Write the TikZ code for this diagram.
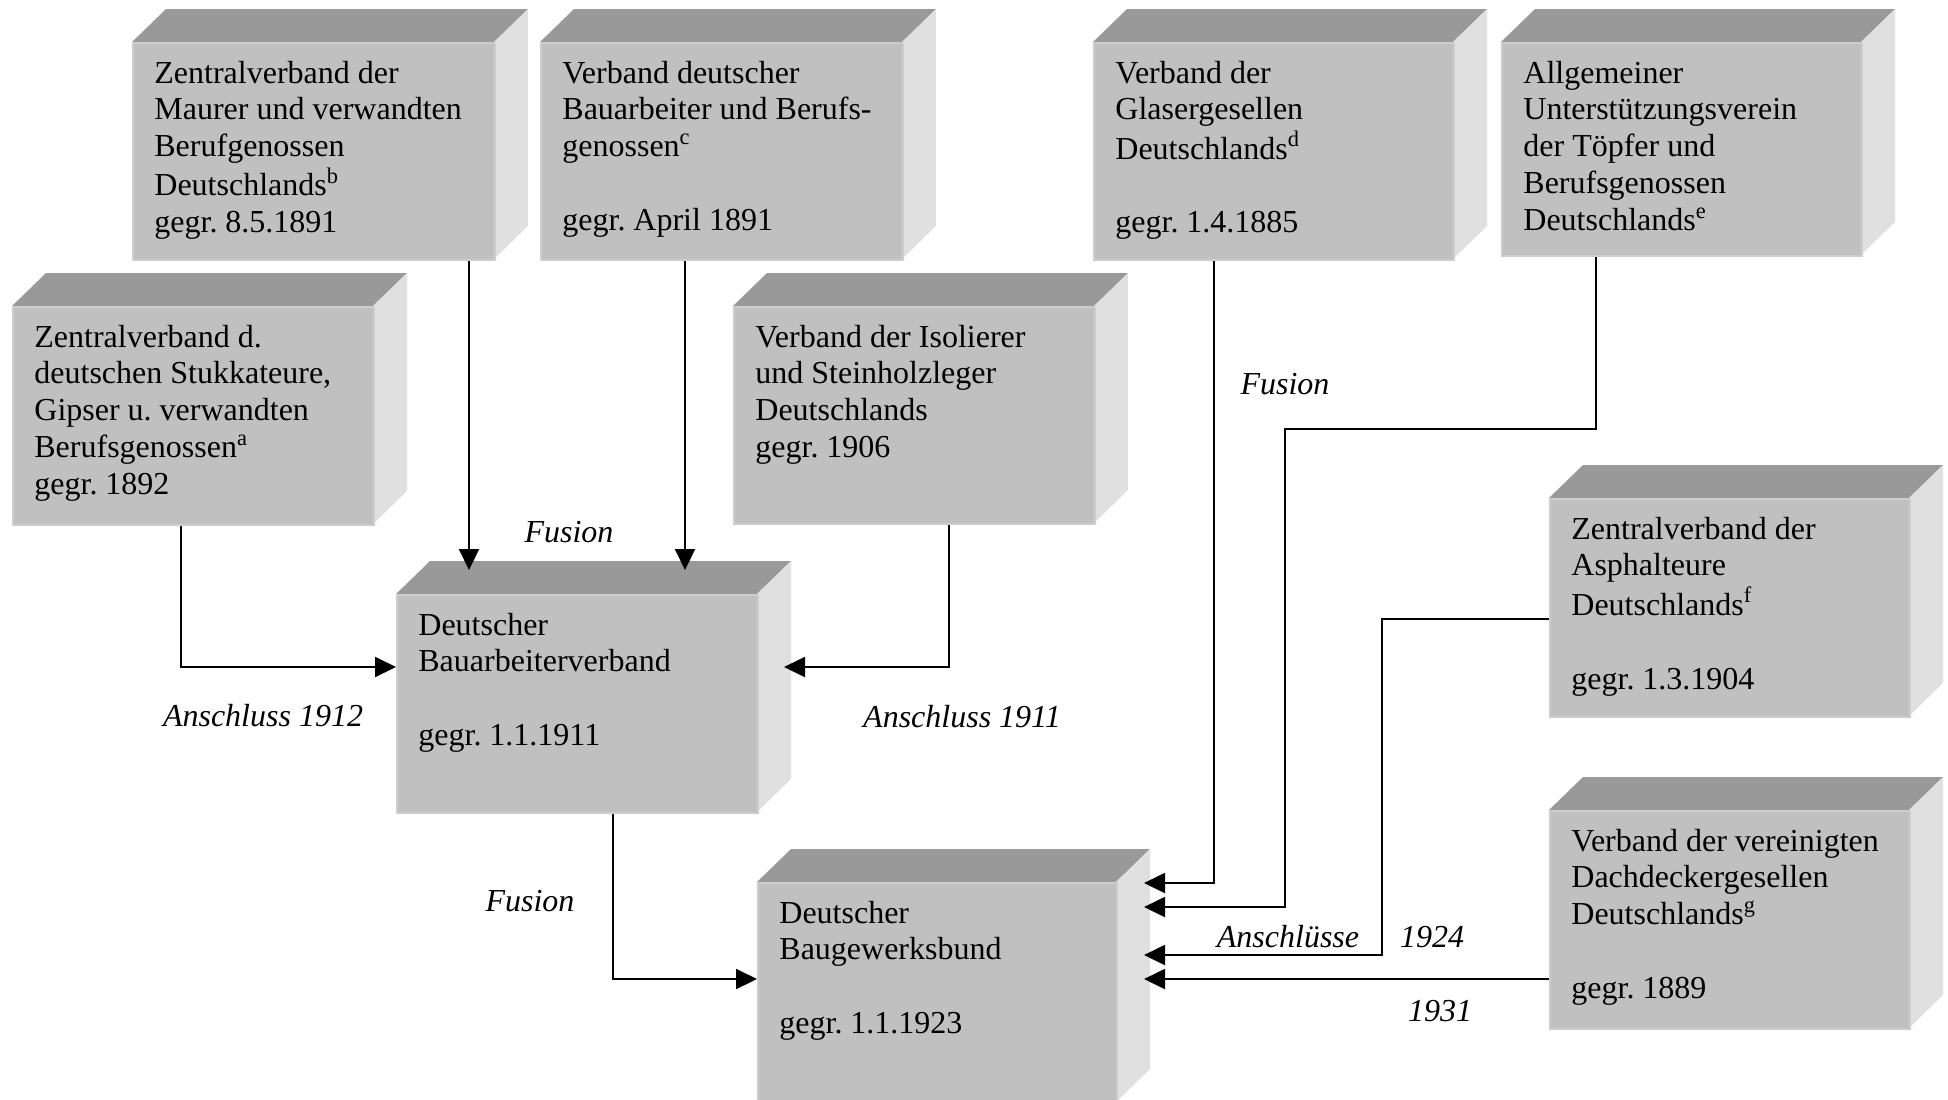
\documentclass[tikz,border=0pt]{standalone}
\usepackage{fontspec}
\setmainfont{Liberation Serif}
\usetikzlibrary{arrows.meta,calc}
\definecolor{topc}{HTML}{999999}
\definecolor{frontc}{HTML}{C0C0C0}
\definecolor{sidec}{HTML}{E0E0E0}
\definecolor{bordc}{HTML}{CDCDCD}
\frenchspacing
\tikzset{
  frontbox/.style={fill=frontc, draw=bordc, line width=1pt, inner sep=0pt, anchor=north west},
  boxtext/.style={anchor=base west, inner sep=0pt, font=\fontsize{16pt}{18.45pt}\selectfont},
  lbl/.style={inner sep=0pt, font=\fontsize{16pt}{18.45pt}\selectfont\itshape},
  arr/.style={line width=1pt, -{Triangle[length=10.5pt,width=10pt]}},
}
\newcommand{\cubebox}[6]{%
  \fill[topc] (#2,#3) -- (#2+34,#3-33) -- (#4+34,#3-33) -- (#4,#3) -- cycle;
  \fill[sidec] (#4,#3) -- (#4+34,#3-33) -- (#4+34,#5-33) -- (#4,#5) -- cycle;
  \node[frontbox, minimum width={(#4-#2)*0.5pt}, minimum height={(#5-#3)*0.5pt}] (#1) at (#2,#3) {};
  \node[boxtext] (#1t) at (#2+22,#3+41) {\frenchspacing\begin{tabular}[t]{@{}l@{}}#6\end{tabular}};
}
\begin{document}
\begin{tikzpicture}[x=0.5pt,y=-0.5pt]
\useasboundingbox (0,0) rectangle (1948,1099);
\fill[white] (0,0) rectangle (1948,1099);

\cubebox{A}{12}{306}{373}{524}{Zentralverband d.\\ deutschen Stukkateure,\\ Gipser u. verwandten\\ Berufsgenossen\textsuperscript{a}\\ gegr. 1892}
\cubebox{B}{132}{42}{494}{259}{Zentralverband der\\ Maurer und verwandten\\ Berufgenossen\\ Deutschlands\textsuperscript{b}\\ gegr. 8.5.1891}
\cubebox{C}{540}{42}{902}{259}{Verband deutscher\\ Bauarbeiter und Berufs-\\ genossen\textsuperscript{c}\\ \\ gegr. April 1891}
\cubebox{D}{733}{306}{1094}{523}{Verband der Isolierer\\ und Steinholzleger\\ Deutschlands\\ gegr. 1906}
\cubebox{Gl}{1093}{42}{1453}{259}{Verband der\\ Glasergesellen\\ Deutschlands\textsuperscript{d}\\ \\ gegr. 1.4.1885}
\cubebox{T}{1501}{42}{1861}{255}{Allgemeiner\\ Unterstützungsverein\\ der Töpfer und\\ Berufsgenossen\\ Deutschlands\textsuperscript{e}}
\cubebox{E}{396}{594}{757}{812}{Deutscher\\ Bauarbeiterverband\\ \\ gegr. 1.1.1911}
\cubebox{F}{1549}{498}{1909}{716}{Zentralverband der\\ Asphalteure\\ Deutschlands\textsuperscript{f}\\ \\ gegr. 1.3.1904}
\cubebox{H}{1549}{810}{1909}{1028}{Verband der vereinigten\\ Dachdeckergesellen\\ Deutschlands\textsuperscript{g}\\ \\ gegr. 1889}
\cubebox{G}{757}{882}{1116}{1102}{Deutscher\\ Baugewerksbund\\ \\ gegr. 1.1.1923}

% connectors
\draw[arr] ($(B.south west)+(337,0)$) -- ($(E.north west)+(73,-24)$);
\draw[arr] ($(C.south west)+(145,0)$) -- ($(E.north west)+(289,-24)$);
\draw[arr] ($(A.south west)+(169,0)$) |- ($(E.north west)+(0,73)$);
\draw[arr] ($(D.south west)+(216,0)$) |- ($(E.north east)+(25,73)$);
\draw[arr] ($(E.south west)+(217,0)$) |- ($(G.north west)+(0,97)$);
\draw[arr] ($(Gl.south west)+(121,0)$) |- ($(G.north east)+(26,1)$);
\draw[arr] ($(T.south west)+(95,0)$) -- ++(0,172) -- ++(-311,0) |- ($(G.north east)+(26,25)$);
\draw[arr] ($(F.north west)+(0,121)$) -- ++(-167,0) |- ($(G.north east)+(26,73)$);
\draw[arr] ($(H.north west)+(0,169)$) -- ($(G.north east)+(26,97)$);

% labels
\node[lbl] (l1) at (569,532) {Fusion};
\node[lbl] (l2) at (263,716) {Anschluss 1912};
\node[lbl] (l3) at (962,717) {Anschluss 1911};
\node[lbl] (l4) at (530,901) {Fusion};
\node[lbl] (l5) at (1285,384) {Fusion};
\node[lbl] (l6) at (1288,937) {Anschlüsse};
\node[lbl] (l7) at (1432,937) {1924};
\node[lbl] (l8) at (1440,1011) {1931};
\end{tikzpicture}
\end{document}
